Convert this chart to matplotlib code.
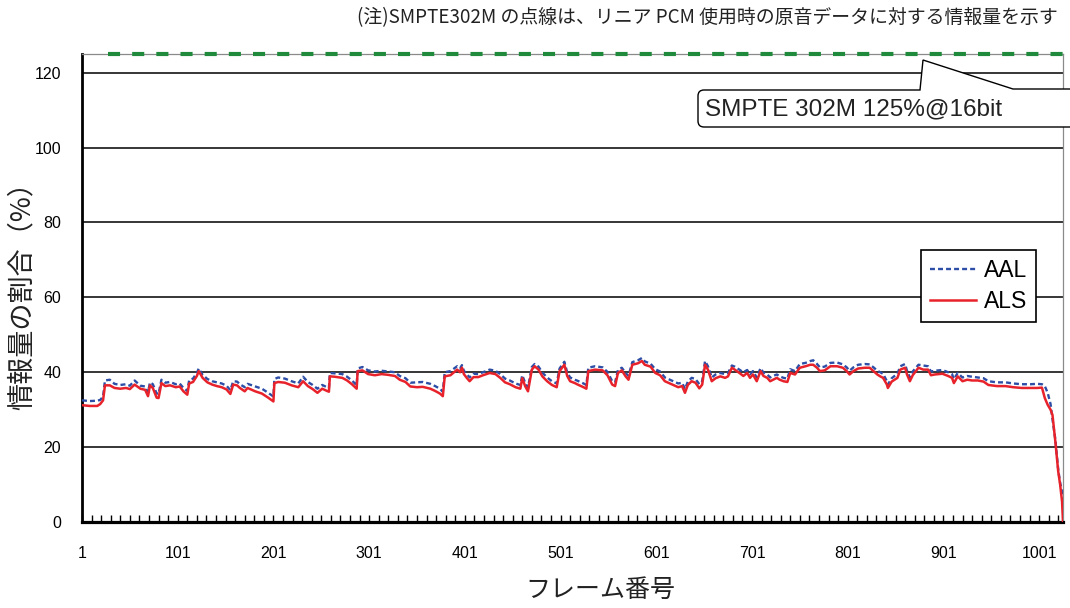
import numpy as np
import matplotlib
matplotlib.use('Agg')
import matplotlib.pyplot as plt
from matplotlib.patches import PathPatch
from matplotlib.path import Path
from matplotlib.ticker import FixedLocator, NullFormatter

# ---------------- data ----------------
frames = [1, 9, 17, 20, 23, 25, 30, 35, 41, 47, 51, 56, 62, 67, 70, 72, 75, 79, 81, 84,
          88, 93, 99, 103, 107, 111, 113, 117, 121, 123, 127, 132, 137, 142, 147, 152, 156, 159, 163, 166,
          171, 174, 182, 189, 195, 201, 202, 206, 213, 220, 227, 232, 237, 242, 247, 252, 257, 259, 260, 265,
          273, 278, 283, 288, 289, 294, 300, 307, 314, 321, 328, 333, 339, 344, 351, 357, 365, 370, 375, 378,
          380, 386, 393, 396, 398, 400, 403, 406, 410, 415, 420, 427, 433, 438, 443, 448, 454, 459, 461, 464,
          467, 471, 474, 478, 482, 487, 492, 497, 500, 505, 508, 511, 516, 519, 525, 528, 530, 537, 545, 550,
          555, 558, 561, 565, 569, 572, 576, 582, 586, 589, 595, 600, 605, 610, 618, 624, 628, 631, 634, 638,
          642, 646, 649, 652, 655, 659, 663, 668, 673, 676, 680, 683, 689, 692, 696, 699, 702, 706, 710, 713,
          717, 720, 723, 727, 730, 734, 738, 741, 746, 751, 757, 762, 765, 769, 772, 777, 783, 790, 796, 800,
          803, 807, 812, 819, 824, 828, 832, 835, 838, 842, 843, 847, 853, 856, 861, 863, 866, 869, 875, 880,
          885, 888, 892, 900, 906, 910, 912, 916, 921, 926, 931, 937, 943, 948, 957, 966, 974, 983, 992, 999,
          1004, 1007, 1010, 1013, 1015, 1018, 1021, 1023, 1025, 1026]

als = [31.2, 31.0, 31.0, 31.5, 32.5, 36.5, 36.5, 35.8, 35.6, 35.8, 35.5, 36.7, 35.6, 35.3, 33.6, 36.5, 35.8, 33.2, 33.1, 37.1,
       36.3, 36.5, 36.0, 36.2, 34.9, 34.0, 37.0, 37.4, 39.0, 40.3, 38.5, 37.3, 36.7, 36.3, 36.0, 35.4, 34.2, 36.7, 36.5, 35.8,
       34.9, 35.8, 34.9, 34.3, 33.3, 32.2, 37.1, 37.4, 37.2, 36.5, 36.0, 37.6, 36.3, 35.5, 34.5, 35.6, 35.0, 34.8, 38.9, 38.8,
       38.5, 37.8, 36.8, 35.6, 40.3, 40.5, 39.5, 39.2, 39.5, 39.3, 39.0, 38.0, 37.4, 36.2, 36.0, 36.1, 35.6, 35.0, 34.3, 33.6,
       38.9, 39.2, 40.7, 40.0, 41.2, 39.5, 38.5, 37.6, 38.7, 38.7, 39.2, 39.8, 39.5, 38.5, 37.3, 36.8, 36.0, 35.6, 38.4, 36.3,
       34.9, 40.7, 41.6, 40.7, 38.9, 37.6, 36.6, 36.0, 40.3, 42.0, 39.0, 37.6, 37.1, 36.7, 36.0, 35.6, 40.3, 40.7, 40.5, 39.2,
       36.7, 36.3, 39.8, 40.5, 38.9, 38.0, 42.0, 42.4, 43.0, 42.0, 41.5, 39.8, 39.2, 37.6, 36.7, 36.0, 36.3, 34.5, 36.6, 37.6,
       37.2, 35.7, 36.7, 42.0, 40.7, 37.6, 38.4, 38.9, 38.5, 38.9, 41.2, 40.7, 39.6, 39.0, 39.8, 38.5, 39.4, 37.6, 40.3, 39.0,
       38.5, 37.6, 38.0, 38.5, 38.0, 37.6, 37.4, 39.8, 39.4, 41.2, 41.6, 42.0, 42.0, 41.2, 40.3, 40.5, 41.6, 41.6, 41.2, 40.3,
       39.4, 40.3, 41.0, 41.2, 41.2, 40.3, 39.4, 38.9, 38.5, 36.7, 35.8, 37.5, 38.5, 40.7, 41.2, 39.4, 37.6, 39.2, 41.2, 40.7,
       40.7, 39.2, 39.4, 39.6, 39.0, 38.5, 37.1, 38.9, 37.6, 38.0, 37.8, 37.8, 37.5, 36.6, 36.3, 36.3, 36.0, 35.8, 35.8, 35.8,
       35.9, 33.1, 31.3, 30.0, 28.6, 21.5, 13.5, 10.0, 5.5, 0.0]

aal = [32.5, 32.3, 32.4, 32.6, 33.5, 37.8, 38.0, 36.9, 36.6, 36.8, 36.4, 37.8, 36.4, 36.2, 34.6, 37.3, 36.8, 34.3, 34.2, 38.0,
       37.2, 37.4, 36.8, 37.0, 35.8, 35.0, 37.9, 38.3, 39.8, 41.0, 39.3, 38.2, 37.6, 37.3, 37.0, 36.4, 35.2, 37.6, 37.5, 36.8,
       36.0, 36.9, 36.2, 35.6, 34.6, 33.5, 38.2, 38.6, 38.3, 37.6, 37.0, 38.8, 37.4, 36.6, 35.6, 36.6, 36.0, 35.8, 39.8, 39.7,
       39.5, 38.8, 37.8, 36.5, 41.0, 41.4, 40.5, 40.2, 40.4, 40.2, 40.0, 39.0, 38.4, 37.2, 37.3, 37.4, 36.9, 36.3, 35.6, 34.8,
       40.0, 40.3, 41.6, 41.0, 41.9, 40.4, 39.5, 38.6, 39.6, 39.5, 40.0, 40.7, 40.4, 39.5, 38.3, 37.8, 37.0, 36.6, 39.2, 37.2,
       35.9, 41.4, 42.2, 41.5, 39.9, 38.6, 37.6, 37.0, 41.0, 42.8, 39.9, 38.6, 38.0, 37.7, 37.0, 36.6, 41.2, 41.6, 41.3, 40.1,
       37.6, 37.3, 40.6, 41.2, 39.8, 39.0, 42.7, 43.2, 43.8, 42.9, 42.3, 40.8, 40.2, 38.6, 37.7, 37.0, 37.2, 35.5, 37.5, 38.5,
       38.2, 36.8, 37.6, 43.0, 41.6, 38.6, 39.4, 39.8, 39.5, 39.8, 41.8, 41.5, 40.5, 40.0, 40.6, 39.5, 40.3, 38.6, 41.1, 39.9,
       39.4, 38.6, 39.0, 39.4, 38.9, 38.5, 38.3, 40.8, 40.3, 42.2, 42.5, 43.0, 43.2, 42.2, 41.3, 41.5, 42.5, 42.6, 42.1, 41.3,
       40.4, 41.3, 42.0, 42.2, 42.1, 41.3, 40.4, 40.0, 39.6, 37.6, 36.7, 38.4, 39.6, 41.6, 42.2, 40.4, 38.6, 40.2, 42.0, 41.8,
       41.6, 40.2, 40.4, 40.6, 40.0, 39.5, 38.2, 39.8, 38.6, 39.0, 38.8, 38.6, 38.4, 37.6, 37.3, 37.3, 37.0, 36.8, 36.8, 36.9,
       36.8, 36.3, 34.5, 31.5, 27.5, 22.0, 14.0, 10.5, 8.1, 6.4]

smpte_level = 125
smpte_label = 'SMPTE 302M 125%@16bit'
series_names = ['AAL', 'ALS']
x_tick_values = [1, 101, 201, 301, 401, 501, 601, 701, 801, 901, 1001]
y_tick_values = [0, 20, 40, 60, 80, 100, 120]
note_text = '(注)SMPTE302M の点線は、リニア PCM 使用時の原音データに対する情報量を示す'
x_label = 'フレーム番号'
y_label = '情報量の割合（%）'

# ---------------- figure ----------------
W, H = 1070, 608
fig = plt.figure(figsize=(W / 100, H / 100), dpi=100)
fig.patch.set_facecolor('white')

def fx(px):
    return px / W

def fy(py):
    return 1 - py / H

ax = fig.add_axes([fx(82), fy(522), (1063 - 82) / W, (522 - 54) / H])
ax.set_xlim(1, 1026)
ax.set_ylim(0, 125)

JP = ['Noto Sans CJK JP', 'DejaVu Sans']
NUM = ['Liberation Sans', 'DejaVu Sans']

blue = '#2d4ea6'
red = '#e8222b'
green = '#1f8a3c'

ax.plot(frames, aal, color=blue, lw=1.7, linestyle=(0, (2.1, 1.3)), label=series_names[0], zorder=3)
ax.plot(frames, als, color=red, lw=1.8, label=series_names[1], zorder=4)

# SMPTE reference line at 125 %
ax.plot([28, 1040], [smpte_level, smpte_level], color=green, lw=3.0,
        linestyle=(0, (2.9, 2.9)), clip_on=False, zorder=6, solid_capstyle='butt')

# grid
for v in y_tick_values[1:]:
    ax.axhline(v, color='black', lw=1.1, zorder=1)

# spines
ax.spines['left'].set_linewidth(2.0)
ax.spines['bottom'].set_linewidth(2.3)
for s in ['top', 'right']:
    ax.spines[s].set_color('#8a8a8a')
    ax.spines[s].set_linewidth(0.9)

# ticks
ax.yaxis.set_major_locator(FixedLocator(y_tick_values))
ax.set_yticklabels([str(v) for v in y_tick_values], fontfamily=NUM, fontsize=11.5)
ax.tick_params(axis='y', length=0, pad=15)

ax.xaxis.set_major_locator(FixedLocator(x_tick_values))
ax.set_xticklabels([str(v) for v in x_tick_values], fontfamily=NUM, fontsize=11.5)
minor = [v for v in range(11, 1027, 10)]
ax.xaxis.set_minor_locator(FixedLocator(minor))
ax.xaxis.set_minor_formatter(NullFormatter())
ax.tick_params(axis='x', which='both', direction='in', length=5, width=1.0, color='black')
ax.tick_params(axis='x', which='major', pad=17)

# legend
leg = ax.legend(loc='upper left', bbox_to_anchor=(fx(921), fy(250)), bbox_transform=fig.transFigure,
                frameon=True, fancybox=False, edgecolor='black', framealpha=1, borderaxespad=0,
                prop={'family': NUM, 'size': 16.5}, handlelength=2.0, handletextpad=0.35,
                borderpad=0.38, labelspacing=0.38)
leg.get_frame().set_linewidth(1.2)
leg.set_zorder(10)

# callout box
verts_px = [(1085, 89), (1013, 89), (923, 60), (920, 90), (704, 90), (698, 90), (698, 96),
            (698, 121), (698, 127), (704, 127), (1085, 127), (1085, 89)]
codes = [Path.MOVETO, Path.LINETO, Path.LINETO, Path.LINETO, Path.LINETO, Path.CURVE3, Path.CURVE3,
         Path.LINETO, Path.CURVE3, Path.CURVE3, Path.LINETO, Path.CLOSEPOLY]
path = Path([(fx(x), fy(y)) for x, y in verts_px], codes)
patch = PathPatch(path, facecolor='white', edgecolor='black', lw=1.0, transform=fig.transFigure, zorder=20)
fig.patches.append(patch)
fig.text(fx(705), fy(109), smpte_label, ha='left', va='center', fontsize=17.5, family=NUM,
         color='#222222', zorder=21)

# texts
fig.text(fx(1058), fy(18), note_text, ha='right', va='center', fontsize=13.6, family=JP, color='#222222')
fig.text(fx(600), fy(590), x_label, ha='center', va='center', fontsize=18, family=JP, color='#222222')
fig.text(fx(22), fy(289), y_label, ha='center', va='center', rotation=90, fontsize=19.5, family=JP,
         color='#222222')

fig.savefig('out.png', dpi=100)
